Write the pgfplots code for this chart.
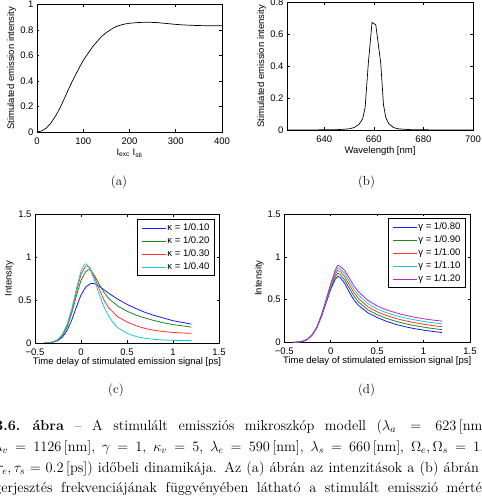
\documentclass[border=0pt]{standalone}
\usepackage{fontspec}
\usepackage{pgfplots}
\pgfplotsset{compat=1.18}
\newfontfamily\hv{Liberation Sans}
\definecolor{mblue}{rgb}{0.1,0.1,1}
\definecolor{mgreen}{rgb}{0.1,0.55,0.1}
\definecolor{mred}{rgb}{1,0.2,0.2}
\definecolor{mcyan}{rgb}{0.1,0.8,0.8}
\definecolor{mmag}{rgb}{0.72,0.15,0.78}
\pgfplotsset{
  mat/.style={
    scale only axis,
    anchor=south west,
    axis line style={line width=0.7pt},
    tick align=inside,
    major tick length=2.5pt,
    tick style={black,line width=0.5pt},
    tick label style={font=\hv\fontsize{9.5}{11}\selectfont},
    xticklabel style={yshift=-2pt},
    label style={font=\hv\fontsize{9.5}{11}\selectfont},
    /pgf/number format/assume math mode=true,
    legend style={font=\hv\fontsize{9.5}{11}\selectfont, draw=black, line width=1pt,
      anchor=north east, inner xsep=4pt, inner ysep=3pt, row sep=2pt,
      nodes={inner sep=1pt, text height=7pt, text depth=2pt}},
    legend cell align=left,
    legend image code/.code={\draw[##1, line width=1.3pt] (0pt,0pt) -- (24pt,0pt);},
  }
}
\begin{document}
\begin{tikzpicture}[x=1pt,y=1pt]
\useasboundingbox (0,0) rectangle (482,496);
\clip (0,0) rectangle (482,496);
% (a)
\begin{axis}[mat, at={(37pt,364pt)}, width=185pt, height=127.5pt,
  xmin=0, xmax=400, ymin=0, ymax=1,
  xtick={0,100,200,300,400}, ytick={0,0.2,0.4,0.6,0.8,1},
  xlabel={I\textsubscript{exc} I\textsubscript{sti}},
  ylabel={Stimulated emission intensity},
  xlabel style={at={(axis description cs:0.5,-0.165)}, anchor=center},
  ylabel style={at={(axis description cs:-0.137,0.5)}, anchor=center}]
\addplot[black, line width=0.7pt] coordinates {
(0,0) (10,0.008) (20,0.03) (30,0.07) (40,0.125) (50,0.19) (60,0.27) (70,0.35)
(80,0.425) (90,0.495) (100,0.56) (110,0.615) (120,0.667) (130,0.71) (140,0.75)
(150,0.78) (160,0.805) (170,0.825) (180,0.838) (190,0.847) (200,0.853)
(220,0.859) (240,0.861) (260,0.858) (280,0.851) (300,0.844) (320,0.839)
(340,0.836) (360,0.834) (380,0.834) (400,0.834)};
\end{axis}
% (b)
\begin{axis}[mat, at={(287pt,366pt)}, width=186pt, height=127.5pt,
  xmin=625, xmax=700, ymin=0, ymax=0.8,
  xtick={640,660,680,700}, ytick={0,0.2,0.4,0.6,0.8},
  xlabel={Wavelength [nm]},
  ylabel={Stimulated emission intensity},
  xlabel style={at={(axis description cs:0.5,-0.165)}, anchor=center},
  ylabel style={at={(axis description cs:-0.136,0.5)}, anchor=center}]
\addplot[black, line width=0.7pt] coordinates {
(625,0) (635,0.0005) (645,0.002) (650,0.007) (652,0.015) (654,0.035)
(655.5,0.07) (656.5,0.14) (657.8,0.42) (659.3,0.675) (660.8,0.66)
(662.8,0.42) (663.9,0.16) (664.8,0.08) (666,0.04) (668,0.015) (670,0.007)
(675,0.002) (685,0.0005) (700,0)};
\end{axis}
% (c)
\begin{axis}[mat, at={(35pt,153pt)}, width=184pt, height=128.7pt,
  xmin=-0.5, xmax=1.5, ymin=0, ymax=1.5,
  xtick={-0.5,0,0.5,1,1.5}, xticklabels={−0.5,0,0.5,1,1.5},
  ytick={0,0.5,1,1.5},
  xlabel={Time delay of stimulated emission signal [ps]},
  ylabel={Intensity},
  xlabel style={at={(axis description cs:0.5,-0.148)}, anchor=center},
  ylabel style={at={(axis description cs:-0.141,0.5)}, anchor=center},
  legend style={at={(0.978,0.961)}}]
\addplot[mblue, line width=0.8pt] coordinates {
(-0.4,0) (-0.35,0.003) (-0.3,0.01) (-0.25,0.03) (-0.2,0.07) (-0.15,0.15)
(-0.1,0.27) (-0.05,0.42) (0,0.56) (0.05,0.65) (0.1,0.69) (0.12,0.695)
(0.15,0.69) (0.2,0.66) (0.25,0.62) (0.3,0.58) (0.4,0.51) (0.5,0.45)
(0.6,0.40) (0.7,0.355) (0.8,0.32) (0.9,0.29) (1.0,0.26) (1.1,0.24) (1.2,0.22)};
\addlegendentry{κ = 1/0.10}
\addplot[mgreen, line width=0.8pt] coordinates {
(-0.4,0) (-0.35,0.003) (-0.3,0.012) (-0.25,0.035) (-0.2,0.09) (-0.15,0.19)
(-0.1,0.35) (-0.05,0.55) (0,0.73) (0.05,0.83) (0.08,0.855) (0.1,0.85)
(0.15,0.78) (0.2,0.68) (0.25,0.59) (0.3,0.52) (0.4,0.43) (0.5,0.37)
(0.6,0.325) (0.7,0.29) (0.8,0.26) (0.9,0.235) (1.0,0.215) (1.1,0.2) (1.2,0.185)};
\addlegendentry{κ = 1/0.20}
\addplot[mred, line width=0.8pt] coordinates {
(-0.4,0) (-0.35,0.003) (-0.3,0.013) (-0.25,0.038) (-0.2,0.1) (-0.15,0.21)
(-0.1,0.38) (-0.05,0.6) (0,0.8) (0.05,0.895) (0.07,0.9) (0.1,0.87)
(0.15,0.76) (0.2,0.62) (0.25,0.5) (0.3,0.41) (0.4,0.305) (0.5,0.245)
(0.6,0.2) (0.7,0.168) (0.8,0.147) (0.9,0.133) (1.0,0.123) (1.1,0.117) (1.2,0.112)};
\addlegendentry{κ = 1/0.30}
\addplot[mcyan, line width=0.8pt] coordinates {
(-0.4,0) (-0.35,0.003) (-0.3,0.014) (-0.25,0.04) (-0.2,0.105) (-0.15,0.22)
(-0.1,0.4) (-0.05,0.63) (0,0.84) (0.04,0.92) (0.06,0.92) (0.1,0.86)
(0.15,0.72) (0.2,0.56) (0.25,0.42) (0.3,0.315) (0.35,0.235) (0.4,0.178)
(0.5,0.112) (0.6,0.075) (0.7,0.054) (0.8,0.042) (0.9,0.035) (1.0,0.031) (1.1,0.03) (1.2,0.029)};
\addlegendentry{κ = 1/0.40}
\end{axis}
% (d)
\begin{axis}[mat, at={(284.3pt,153.7pt)}, width=185.7pt, height=128.3pt,
  xmin=-0.5, xmax=1.5, ymin=0, ymax=1.5,
  xtick={-0.5,0,0.5,1,1.5}, xticklabels={−0.5,0,0.5,1,1.5},
  ytick={0,0.5,1,1.5},
  xlabel={Time delay of stimulated emission signal [ps]},
  ylabel={Intensity},
  xlabel style={at={(axis description cs:0.5,-0.149)}, anchor=center},
  ylabel style={at={(axis description cs:-0.135,0.5)}, anchor=center},
  legend style={at={(0.978,0.966)}}]
\addplot[mblue, line width=0.8pt] coordinates {
(-0.4,0) (-0.35,0.003) (-0.3,0.012) (-0.25,0.035) (-0.2,0.085) (-0.15,0.17)
(-0.1,0.3) (-0.05,0.46) (0,0.62) (0.05,0.74) (0.075,0.77) (0.1,0.76)
(0.15,0.69) (0.2,0.585) (0.25,0.495) (0.3,0.43) (0.4,0.345) (0.5,0.29)
(0.6,0.245) (0.7,0.21) (0.8,0.182) (0.9,0.16) (1.0,0.142) (1.1,0.127) (1.2,0.114)};
\addlegendentry{γ = 1/0.80}
\addplot[mgreen, line width=0.8pt] coordinates {
(-0.4,0) (-0.35,0.003) (-0.3,0.012) (-0.25,0.035) (-0.2,0.086) (-0.15,0.172)
(-0.1,0.305) (-0.05,0.47) (0,0.64) (0.05,0.77) (0.075,0.805) (0.1,0.795)
(0.15,0.73) (0.2,0.63) (0.25,0.54) (0.3,0.47) (0.4,0.38) (0.5,0.323)
(0.6,0.28) (0.7,0.246) (0.8,0.218) (0.9,0.196) (1.0,0.177) (1.1,0.161) (1.2,0.148)};
\addlegendentry{γ = 1/0.90}
\addplot[mred, line width=0.8pt] coordinates {
(-0.4,0) (-0.35,0.003) (-0.3,0.012) (-0.25,0.035) (-0.2,0.087) (-0.15,0.174)
(-0.1,0.31) (-0.05,0.48) (0,0.655) (0.05,0.8) (0.075,0.84) (0.1,0.83)
(0.15,0.77) (0.2,0.67) (0.25,0.58) (0.3,0.51) (0.4,0.415) (0.5,0.356)
(0.6,0.313) (0.7,0.279) (0.8,0.252) (0.9,0.23) (1.0,0.211) (1.1,0.195) (1.2,0.182)};
\addlegendentry{γ = 1/1.00}
\addplot[mcyan, line width=0.8pt] coordinates {
(-0.4,0) (-0.35,0.003) (-0.3,0.012) (-0.25,0.035) (-0.2,0.088) (-0.15,0.176)
(-0.1,0.315) (-0.05,0.49) (0,0.67) (0.05,0.825) (0.075,0.87) (0.1,0.86)
(0.15,0.805) (0.2,0.71) (0.25,0.62) (0.3,0.55) (0.4,0.452) (0.5,0.39)
(0.6,0.346) (0.7,0.312) (0.8,0.285) (0.9,0.263) (1.0,0.244) (1.1,0.229) (1.2,0.215)};
\addlegendentry{γ = 1/1.10}
\addplot[mmag, line width=0.8pt] coordinates {
(-0.4,0) (-0.35,0.003) (-0.3,0.012) (-0.25,0.035) (-0.2,0.089) (-0.15,0.178)
(-0.1,0.32) (-0.05,0.5) (0,0.685) (0.05,0.85) (0.075,0.9) (0.1,0.89)
(0.15,0.84) (0.2,0.75) (0.25,0.66) (0.3,0.59) (0.4,0.49) (0.5,0.425)
(0.6,0.38) (0.7,0.345) (0.8,0.317) (0.9,0.294) (1.0,0.275) (1.1,0.26) (1.2,0.248)};
\addlegendentry{γ = 1/1.20}
\end{axis}
% sub-captions
\begin{scope}[every node/.style={anchor=base, font=\fontsize{13}{15}\selectfont}]
\node at (119,310) {(a)};
\node at (366.5,310) {(b)};
\node at (116,102) {(c)};
\node at (366.5,102) {(d)};
\end{scope}
% figure caption (cropped page)
\begin{scope}[every node/.style={anchor=base west, inner sep=0pt, font=\fontsize{14.4}{17}\selectfont}]
\node at (-5,65.3) {\hbox to 495pt{\textbf{3.6.\ ábra} -- A stimulált emissziós mikroszkóp modell ($\lambda_a = 623\,$[nm],}};
\node at (-6,44.6) {\hbox to 490pt{$\lambda_v = 1126\,$[nm], $\gamma = 1$, $\kappa_v = 5$, $\lambda_e = 590\,$[nm], $\lambda_s = 660\,$[nm], $\Omega_e,\Omega_s = 1$,}};
\node at (-4,23.9) {\hbox to 495pt{$\tau_e,\tau_s = 0.2\,$[ps]) időbeli dinamikája. Az (a) ábrán az intenzitások a (b) ábrán a}};
\node at (-6,3.2) {\hbox to 505pt{gerjesztés frekvenciájának függvényében látható a stimulált emisszió mértéke.}};
\end{scope}
\end{tikzpicture}
\end{document}
